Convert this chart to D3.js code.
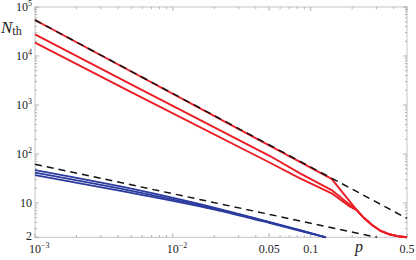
<!DOCTYPE html>
<html><head><meta charset="utf-8">
<script src="https://cdn.jsdelivr.net/npm/d3@7"></script>
<style>body{margin:0;background:#fff}svg{display:block}</style>
</head><body><svg width="416" height="260"></svg>
<script>
// ---- data ----
const xDomain = [1e-3, 0.5];
const yDomain = [2, 1e5];
const xTickValues = [1e-3, 1e-2, 0.05, 0.1, 0.5];
const xTickBase = ["10", "10", "0.05", "0.1", "0.5"];
const xTickSup = ["−3", "−2", "", "", ""];
const yTickValues = [1e5, 1e4, 1e3, 1e2, 10, 2];
const yTickBase = ["10", "10", "10", "10", "10", "2"];
const yTickSup = ["5", "4", "3", "2", "", ""];

// red curves (p, N)
const redTopP = [0.001, 0.142, 0.216, 0.244, 0.279, 0.319, 0.377, 0.446, 0.5];
const redTopN = [54300, 31, 7.2, 4.94, 3.56, 2.75, 2.28, 2.07, 2.0];
const redMidP = [0.001, 0.0049, 0.0507, 0.0838, 0.142, 0.193, 0.216, 0.244, 0.279, 0.319, 0.377, 0.446, 0.5];
const redMidN = [27700, 2690, 91, 40.4, 18.4, 9.1, 7.2, 4.94, 3.56, 2.75, 2.28, 2.07, 2.0];
const redBotP = [0.001, 0.0049, 0.0507, 0.0838, 0.142, 0.193, 0.216, 0.244, 0.279, 0.319, 0.377, 0.446, 0.5];
const redBotN = [18700, 1870, 66.4, 31.9, 15.8, 8.4, 7.2, 4.94, 3.56, 2.75, 2.28, 2.07, 2.0];

// blue curves
const blueP = [0.001, 0.0049, 0.022, 0.0507, 0.0838, 0.129];
const blue1N = [47.1, 19.9, 7.55, 4.1, 2.8, 2.0];
const blue2N = [41.9, 18.0, 7.25, 4.0, 2.76, 2.0];
const blue3N = [37.3, 16.3, 6.95, 3.9, 2.72, 2.0];

// dashed asymptotes
const dashUpP = [0.001, 0.5];
const dashUpN = [54300, 4.86];
const dashLoP = [0.001, 0.302];
const dashLoN = [61.7, 2.0];

// ---- drawing ----
const svg = d3.select("svg");
const x = d3.scaleLog().domain(xDomain).range([35, 407]);
const y = d3.scaleLog().domain(yDomain).range([237.3, 7]);
const [L, R] = x.range(); const [B, T] = y.range();

const frameCol = "#c4c4c4", tickCol = "#a0a0a0";
const font = "'Liberation Serif','Times New Roman',serif";

svg.append("rect").attr("x", L).attr("y", T).attr("width", R - L).attr("height", B - T)
  .attr("fill", "none").attr("stroke", frameCol).attr("stroke-width", 1);

const xMinor = x.ticks().filter(v => v >= xDomain[0] && v <= xDomain[1]);
const yMinor = y.ticks().filter(v => v >= yDomain[0] && v <= yDomain[1]);
const isMajX = v => xTickValues.some(t => Math.abs(t - v) / t < 1e-6);
const isMajY = v => yTickValues.some(t => Math.abs(t - v) / t < 1e-6);

const tg = svg.append("g").attr("stroke", tickCol).attr("stroke-width", 0.8);
xMinor.forEach(v => {
  const len = isMajX(v) ? 4 : 2.2, px = x(v);
  tg.append("line").attr("x1", px).attr("x2", px).attr("y1", B).attr("y2", B - len);
  tg.append("line").attr("x1", px).attr("x2", px).attr("y1", T).attr("y2", T + len);
});
yMinor.forEach(v => {
  const len = isMajY(v) ? 4 : 2.2, py = y(v);
  tg.append("line").attr("x1", L).attr("x2", L + len).attr("y1", py).attr("y2", py);
  tg.append("line").attr("x1", R).attr("x2", R - len).attr("y1", py).attr("y2", py);
});

// curves
const line = d3.line().x(d => x(d[0])).y(d => y(d[1]));
const smooth = d3.line().x(d => x(d[0])).y(d => y(d[1])).curve(d3.curveMonotoneX);
const zip = (a, b) => a.map((v, i) => [v, b[i]]);
const plot = svg.append("g").attr("fill", "none").attr("stroke-linejoin", "round");
const red = "#ec1c24", blue = "#2b3b9e";
[[redTopP, redTopN], [redMidP, redMidN], [redBotP, redBotN]].forEach(([p, n]) =>
  plot.append("path").attr("d", line(zip(p, n))).attr("stroke", red).attr("stroke-width", 1.9));
[blue1N, blue2N, blue3N].forEach(n =>
  plot.append("path").attr("d", smooth(zip(blueP, n))).attr("stroke", blue).attr("stroke-width", 1.8));
[[dashUpP, dashUpN], [dashLoP, dashLoN]].forEach(([p, n]) =>
  plot.append("path").attr("d", line(zip(p, n))).attr("stroke", "#111")
    .attr("stroke-width", 1.5).attr("stroke-dasharray", "7,5"));

// tick labels
const lab = svg.append("g").attr("font-family", font).attr("fill", "#222");
xTickValues.forEach((v, i) => {
  const t = lab.append("text").attr("y", 253.2).attr("font-size", 12);
  if (xTickSup[i]) {
    t.attr("x", x(v) - 6).attr("text-anchor", "start");
    t.append("tspan").text(xTickBase[i]);
    t.append("tspan").attr("font-size", 8).attr("dy", -5).text(xTickSup[i]);
  } else {
    t.attr("x", x(v)).attr("text-anchor", "middle").text(xTickBase[i]);
  }
});
yTickValues.forEach((v, i) => {
  const t = lab.append("text").attr("x", 32).attr("y", Math.min(y(v) + 4, 239.8)).attr("font-size", 12)
    .attr("text-anchor", "end");
  t.append("tspan").text(yTickBase[i]);
  if (yTickSup[i]) t.append("tspan").attr("font-size", 8).attr("dy", -5).text(yTickSup[i]);
});

// axis labels
const nl = lab.append("text").attr("x", 1).attr("y", 33);
nl.append("tspan").attr("font-style", "italic").attr("font-size", 17).text("N");
nl.append("tspan").attr("font-size", 12).attr("dy", 2).text("th");
lab.append("text").attr("x", 355).attr("y", 252).attr("font-style", "italic")
  .attr("font-size", 16).text("p");
</script>
</body></html>
